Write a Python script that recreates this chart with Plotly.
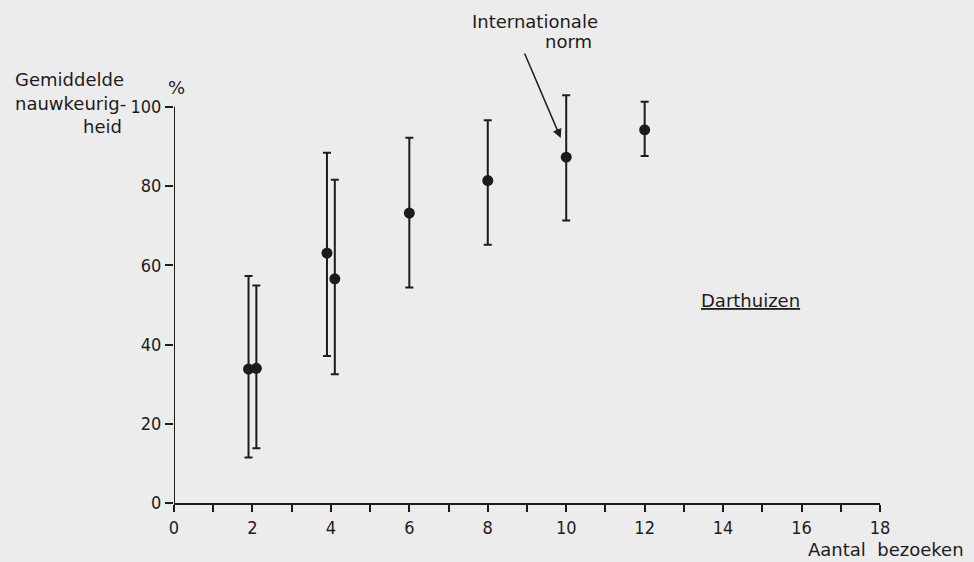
import plotly.graph_objects as go

# Data
visits = [1.9, 2.1, 3.9, 4.1, 6.0, 8.0, 10.0, 12.0]
accuracy = [33.8, 34.0, 63.1, 56.6, 73.2, 81.4, 87.3, 94.2]
upper = [57.3, 54.9, 88.4, 81.6, 92.2, 96.6, 102.9, 101.3]
lower = [11.5, 13.8, 37.1, 32.5, 54.4, 65.2, 71.3, 87.6]

x_ticks = [0, 2, 4, 6, 8, 10, 12, 14, 16, 18]
y_ticks = [0, 20, 40, 60, 80, 100]

err_plus = [u - c for u, c in zip(upper, accuracy)]
err_minus = [c - l for c, l in zip(accuracy, lower)]

INK = "#1c1c1c"
BG = "#ececec"
TXT = dict(family="DejaVu Sans, sans-serif", size=18, color=INK)
TICKF = dict(family="DejaVu Sans Condensed, DejaVu Sans, sans-serif", size=18, color=INK)

W, H = 974, 562
ML, MR, MT, MB = 174, 94, 91, 59
PW, PH = W - ML - MR, H - MT - MB

fig = go.Figure()
fig.add_trace(go.Scatter(
    x=visits, y=accuracy, mode="markers",
    marker=dict(size=11, color=INK),
    error_y=dict(type="data", symmetric=False, array=err_plus, arrayminus=err_minus,
                 color=INK, thickness=2, width=4),
    cliponaxis=False, showlegend=False,
))

# y axis line only from 0 to 100
fig.add_shape(type="line", x0=0, x1=0, y0=0, y1=100, xref="x", yref="y",
              line=dict(color=INK, width=2))

fig.update_layout(
    width=W, height=H,
    margin=dict(l=ML, r=MR, t=MT, b=MB),
    paper_bgcolor=BG, plot_bgcolor=BG,
    xaxis=dict(range=[0, 18], tickvals=x_ticks, ticktext=[str(v) for v in x_ticks],
               showgrid=False, zeroline=False, showline=True, linecolor=INK, linewidth=2,
               ticks="outside", ticklen=7, tickwidth=2, tickcolor=INK, tickfont=TICKF,
               minor=dict(dtick=1, tick0=0, ticks="outside", ticklen=7, tickwidth=2, tickcolor=INK)),
    yaxis=dict(range=[0, 104], tickvals=y_ticks, ticktext=[str(v) for v in y_ticks],
               showgrid=False, zeroline=False, showline=False,
               ticks="outside", ticklen=8, tickwidth=2, tickcolor=INK, tickfont=TICKF),
)

def px2x(p):
    return (p - ML) / PW

def px2y(p):
    return (H - MB - p) / PH

ann = [
    dict(text="Gemiddelde", x=px2x(13), y=px2y(79), xanchor="left"),
    dict(text="nauwkeurig-", x=px2x(13), y=px2y(103), xanchor="left"),
    dict(text="heid", x=px2x(124), y=px2y(127), xanchor="right"),
    dict(text="%", x=px2x(176), y=px2y(87), xanchor="center"),
    dict(text="Internationale", x=px2x(535), y=px2y(22), xanchor="center"),
    dict(text="norm", x=px2x(568), y=px2y(42), xanchor="center"),
    dict(text="<u>Darthuizen</u>", x=px2x(750), y=px2y(300), xanchor="center"),
    dict(text="Aantal&nbsp;&nbsp;bezoeken", x=px2x(966), y=px2y(549), xanchor="right"),
]
for a in ann:
    fig.add_annotation(xref="paper", yref="paper", showarrow=False, yanchor="middle",
                       font=TXT, **a)

# arrow pointing to the international norm
fig.add_annotation(xref="paper", yref="paper", axref="pixel", ayref="pixel",
                   x=px2x(560.7), y=px2y(138), ax=524 - 560.7, ay=52 - 138,
                   text="", showarrow=True, arrowhead=2, arrowsize=1.2,
                   arrowwidth=1.5, arrowcolor=INK)

fig.write_html("out.html", config={"displayModeBar": False},
               post_script="document.body.style.margin='0';document.body.style.overflow='hidden';")
